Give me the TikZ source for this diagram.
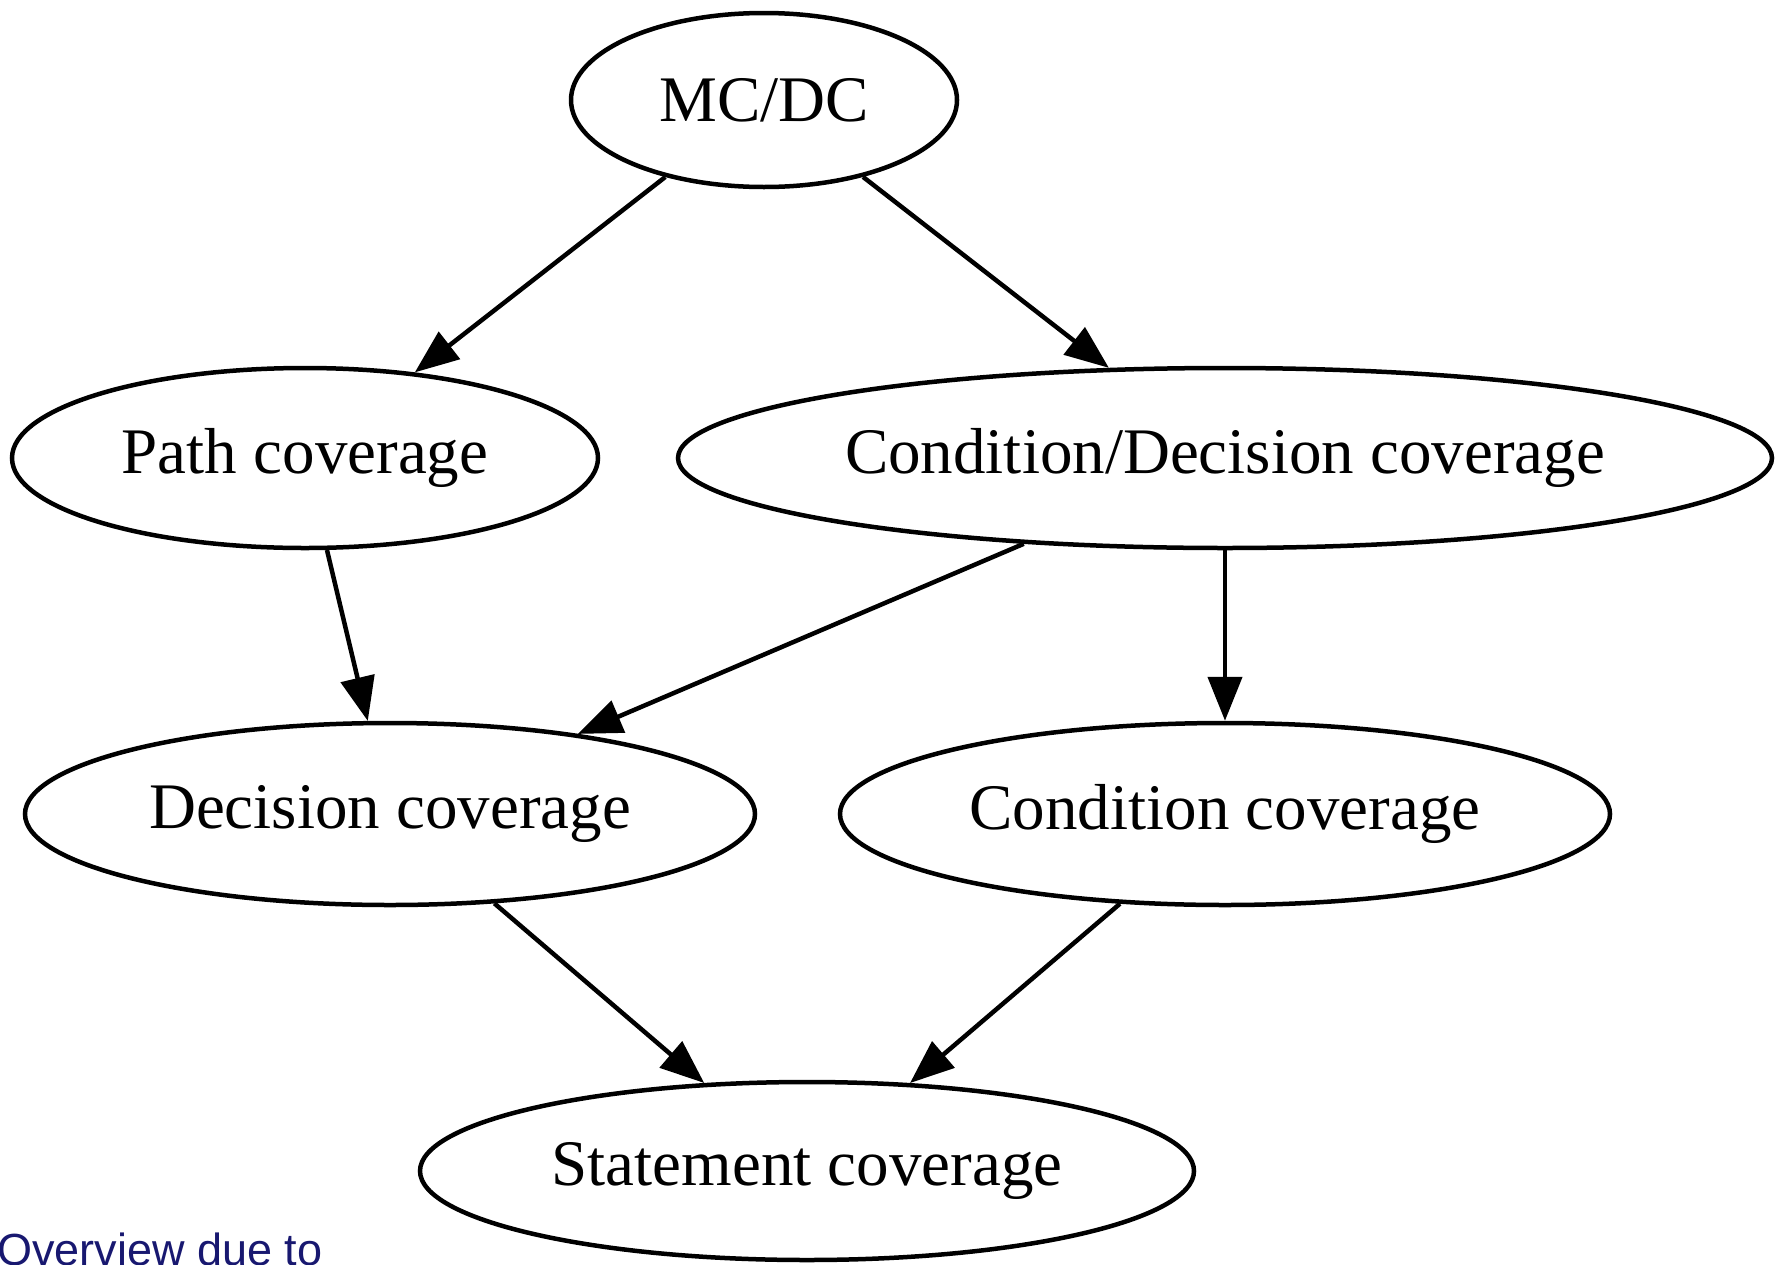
\documentclass[tikz,border=0pt]{standalone}
\usepackage{fontspec}
\setmainfont{Liberation Serif}
\newfontfamily\notefont{Liberation Sans}
\usepackage{xcolor}
\usetikzlibrary{shapes, arrows.meta}

\definecolor{notenavy}{RGB}{24,24,112}

\begin{document}
\begin{tikzpicture}[x=1pt, y=-1pt,
        cov/.style={ellipse, draw, line width=4.5pt, inner sep=0pt,
            font=\fontsize{65}{78}\selectfont},
        edge/.style={line width=4.5pt, -{Triangle[length=44pt, width=34pt]}}]
        \useasboundingbox (0, 0) rectangle (1783, 1264);

        \node[cov, minimum width=386, minimum height=174] (mcdc) at (764, 100) {MC/DC};
        \node[cov, minimum width=586, minimum height=180] (path) at (305, 458) {Path coverage};
        \node[cov, minimum width=1094, minimum height=180] (conddec) at (1225, 458) {Condition/Decision coverage};
        \node[cov, minimum width=730, minimum height=182] (dec) at (390, 814) {Decision coverage};
        \node[cov, minimum width=770, minimum height=182] (cond) at (1225, 814) {Condition coverage};
        \node[cov, minimum width=774, minimum height=178] (stmt) at (807, 1171) {Statement coverage};

        \draw[edge] (mcdc) to (path);
        \draw[edge] (mcdc) to (conddec);
        \draw[edge] (path) to (dec);
        \draw[edge] (conddec) to (dec);
        \draw[edge] (conddec) to (cond);
        \draw[edge] (dec) to (stmt);
        \draw[edge] (cond) to (stmt);

        \node[anchor=base west, inner sep=0pt, text=notenavy,
            font=\notefont\fontsize{45}{54}\selectfont] (note) at (-3, 1265) {Overview due to};
    \end{tikzpicture}
\end{document}
